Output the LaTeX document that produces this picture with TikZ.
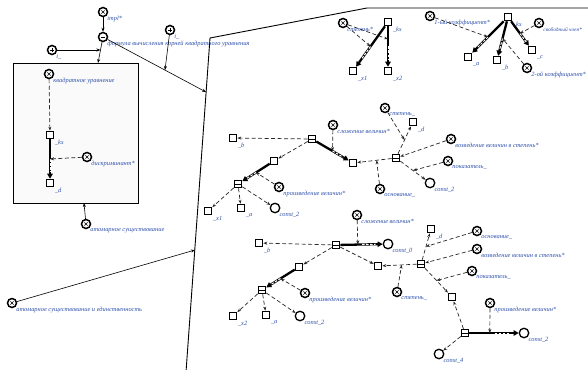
\documentclass[tikz,border=0pt]{standalone}
\usepackage{fontspec}
\setmainfont{Liberation Serif}
\usetikzlibrary{arrows.meta,calc}
\definecolor{labblue}{RGB}{45,80,170}
\tikzset{
 lab/.style={font=\fontsize{6.4}{7.5}\selectfont\itshape, text=labblue, inner sep=0.5pt, anchor=north west},
 smalllab/.style={lab, font=\fontsize{5.4}{6.5}\selectfont\itshape},
 sq/.style={draw, line width=1.1pt, minimum size=7.5pt, inner sep=0pt, fill=white},
 tup/.style={sq, path picture={\draw[line width=0.6pt] (path picture bounding box.west) -- (path picture bounding box.east);}},
 clsbase/.style={circle, draw, line width=1.5pt, minimum size=9pt, inner sep=0pt, fill=white},
 cls/.style={clsbase, path picture={\draw[line width=0.5pt] ([shift={(-1.6pt,-1.6pt)}]path picture bounding box.center) -- ++(3.2pt,3.2pt) ([shift={(-1.6pt,1.6pt)}]path picture bounding box.center) -- ++(3.2pt,-3.2pt);}},
 clsplus/.style={clsbase, path picture={\draw[line width=0.6pt] ([shift={(-2pt,0pt)}]path picture bounding box.center) -- ++(4pt,0pt) ([shift={(0pt,-2pt)}]path picture bounding box.center) -- ++(0pt,4pt);}},
 clsminus/.style={clsbase, path picture={\draw[line width=0.7pt] ([shift={(-2.2pt,0pt)}]path picture bounding box.center) -- ++(4.4pt,0pt);}},
 cnst/.style={circle, draw, line width=1.3pt, minimum size=9.5pt, inner sep=0pt, fill=white},
 conn/.style={line width=0.6pt, -{Stealth[length=4pt,width=3pt]}},
 rel/.style={line width=0.7pt, black!85, dash pattern=on 4pt off 2.5pt, -{Stealth[length=4pt,width=3pt]}},
 frame/.style={line width=0.9pt},
}
\newcommand\carc[2]{%
 \draw[line width=2.3pt, -{Triangle[length=5pt,width=5.5pt]}] (#1) -- (#2);
 \draw[white, line width=1pt, dash pattern=on 2.5pt off 1.5pt] ($(#1)!0.5!(#2)$) -- ($(#1)!0.76!(#2)$);}
\begin{document}
\begin{tikzpicture}[x=1pt,y=-1pt]
\useasboundingbox (0,0) rectangle (588,369);
% big outline
\draw[frame] (186,372) -- (210,38) -- (367,8) -- (590,8);
\coordinate (p1) at (206,92);
\coordinate (p2) at (195,250);
% left box
\node[draw, frame, fill=black!2, minimum width=125pt, minimum height=140pt, inner sep=0pt] (box) at (75.5,133) {};
\coordinate (j1) at (98,63);
\coordinate (j2) at (84,203);

% left nodes
\node[cls, label={[lab]south east:impl*}] (impl) at (103,12) {};
\node[clsminus, label={[lab]south east:формула вычисления корней квадратного уравнения}] (form) at (103,37) {};
\node[clsplus, label={[lab]south east:i\_}] (i1) at (52,50) {};
\node[clsplus, label={[lab]south east:i\_}] (i2) at (170,30) {};
\node[cls, label={[lab]south east:квадратное уравнение}] (kv) at (49,74) {};
\node[sq, label={[lab]south east:\_ks}] (ks0) at (50,135) {};
\node[sq, label={[lab]south east:\_d}] (d0) at (50,183) {};
\node[cls, label={[lab]south east:дискриминант*}] (disc) at (87,157) {};
\node[cls, label={[lab]south east:атомарное существование}] (atom) at (86,224) {};
\node[cls, label={[lab]south east:атомарное существование и единственность}] (atom2) at (12,303) {};

\coordinate (q1) at (100.5,50);
\coordinate (q2) at (165,70);
\draw[conn] (impl) -- (form);
\draw[conn] (form) -- (j1);
\draw[conn] (i1) -- (q1);
\draw[conn] (form) -- (p1);
\draw[conn] (i2) -- (q2);
\draw[conn] (atom) -- (j2);
\draw[conn] (atom2) -- (p2);
\draw[rel] (kv) -- (ks0);
\carc{ks0}{d0}
\coordinate (m0) at ($(ks0)!0.5!(d0)$);
\draw[rel] (disc) -- (m0);

% top group 1
\node[cls, label={[lab]south east:степень*}] (st1) at (343,23) {};
\node[sq, label={[lab]south east:\_ks}] (ks1) at (388,22) {};
\node[sq, label={[lab]south east:\_x1}] (x1a) at (353,71) {};
\node[sq, label={[lab]south east:\_x2}] (x2a) at (388,71) {};
\carc{ks1}{x1a}
\carc{ks1}{x2a}
\coordinate (m1) at ($(ks1)!0.5!(x1a)$);
\coordinate (m2) at ($(ks1)!0.35!(x2a)$);
\draw[rel] (st1) -- (m1);
\draw[rel] (st1) -- (m2);

% top group 2
\node[cls, label={[lab]south east:1-ый коэффициент*}] (k1) at (430,16) {};
\node[sq, label={[lab]south east:\_ks}] (ks2) at (508,17) {};
\node[sq, label={[lab]south east:\_a}] (a2) at (468,57) {};
\node[sq, label={[lab]south east:\_b}] (b2) at (497,60) {};
\node[sq, label={[lab]south east:\_c}] (c2) at (532,50) {};
\node[cls, label={[smalllab]south east:свободный член*}] (fr) at (539,23) {};
\node[cls, label={[lab]south east:2-ой коэффициент*}] (k2) at (527,68) {};
\carc{ks2}{a2}
\carc{ks2}{b2}
\carc{ks2}{c2}
\coordinate (m3) at ($(ks2)!0.5!(a2)$);
\coordinate (m4) at ($(ks2)!0.5!(b2)$);
\coordinate (m5) at ($(ks2)!0.5!(c2)$);
\draw[rel] (k1) -- (m3);
\draw[rel] (k2) -- (m4);
\draw[rel] (fr) -- (m5);

% middle group
\node[tup] (t1) at (312,139) {};
\node[sq, label={[lab]south east:\_b}] (bm) at (233,138) {};
\node[sq] (s1) at (274,161) {};
\node[tup] (t2) at (238,184) {};
\node[sq, label={[lab]south east:\_x1}] (x1m) at (208,211) {};
\node[sq, label={[lab]south east:\_a}] (am) at (241,208) {};
\node[cnst, label={[lab]south east:const\_2}] (c2m) at (275,208) {};
\node[cls, label={[lab]south east:произведение величин*}] (pr1) at (279,187) {};
\node[cls, label={[lab]south east:сложение величин*}] (sl1) at (333,125) {};
\node[sq] (s2) at (353,163) {};
\node[tup] (t3) at (396,158) {};
\node[cls, label={[lab]south east:основание\_}] (os1) at (380,189) {};
\node[cls, label={[lab]south east:степень\_}] (st2) at (385,108) {};
\node[sq, label={[lab]south east:\_d}] (dm) at (413,122) {};
\node[cls, label={[lab]south east:возведение величин в степень*}] (vz1) at (451,139) {};
\node[cls, label={[lab]south east:показатель\_}] (pk1) at (448,161) {};
\node[cnst, label={[lab]south east:const\_2}] (c3m) at (430,183) {};

\draw[rel] (t1) -- (bm);
\draw[rel] (t1) -- (s1);
\carc{t1}{s2}
\coordinate (m6) at ($(t1)!0.5!(s2)$);
\draw[rel] (sl1) -- (m6);
\carc{s1}{t2}
\coordinate (m7) at ($(s1)!0.5!(t2)$);
\draw[rel] (pr1) -- (m7);
\draw[rel] (t2) -- (x1m);
\draw[rel] (t2) -- (am);
\draw[rel] (t2) -- (c2m);
\draw[rel] (t3) -- (s2);
\coordinate (m8) at ($(t3)!0.45!(s2)$);
\draw[rel] (os1) -- (m8);
\draw[rel] (t3) -- (dm);
\coordinate (m9) at ($(t3)!0.5!(dm)$);
\draw[rel] (st2) -- (m9);
\draw[rel] (vz1) -- (t3);
\draw[rel] (t3) -- (c3m);
\coordinate (m10) at ($(t3)!0.5!(c3m)$);
\draw[rel] (pk1) -- (m10);

% bottom group
\node[cls, label={[lab]south east:сложение величин*}] (sl2) at (357,215) {};
\node[tup] (t4) at (336,245) {};
\node[cnst, label={[lab]south east:const\_0}] (c0) at (388,244) {};
\node[sq, label={[lab]south east:\_b}] (bb) at (259,243) {};
\node[sq] (s3) at (299,267) {};
\node[tup] (t5) at (262,290) {};
\node[sq, label={[lab]south east:\_x2}] (x2b) at (233,316) {};
\node[sq, label={[lab]south east:\_a}] (ab) at (266,315) {};
\node[cnst, label={[lab]south east:const\_2}] (c2b) at (300,316) {};
\node[cls, label={[lab]south east:произведение величин*}] (pr2) at (305,293) {};
\node[sq] (s4) at (378,266) {};
\node[tup] (t6) at (421,264) {};
\node[sq, label={[lab]south east:\_d}] (db) at (431,229) {};
\node[cls, label={[lab]south east:основание\_}] (os2) at (477,231) {};
\node[cls, label={[lab]south east:возведение величин в степень*}] (vz2) at (477,249) {};
\node[cls, label={[lab]south east:показатель\_}] (pk2) at (472,271) {};
\node[cls, label={[lab]south east:степень\_}] (st3) at (397,292) {};
\node[sq] (s5) at (452,297) {};
\node[tup] (t7) at (465,333) {};
\node[cnst, label={[lab]south east:const\_2}] (c2c) at (524,333) {};
\node[cls, label={[lab]south east:произведение величин*}] (pr3) at (490,303) {};
\node[cnst, label={[lab]south east:const\_4}] (c4) at (439,354) {};

\carc{t4}{c0}
\coordinate (m11) at ($(t4)!0.42!(c0)$);
\draw[rel] (sl2) -- (m11);
\draw[rel] (t4) -- (bb);
\draw[rel] (t4) -- (s3);
\draw[rel] (t4) -- (s4);
\carc{s3}{t5}
\coordinate (m12) at ($(s3)!0.5!(t5)$);
\draw[rel] (pr2) -- (m12);
\draw[rel] (t5) -- (x2b);
\draw[rel] (t5) -- (ab);
\draw[rel] (t5) -- (c2b);
\draw[rel] (t6) -- (s4);
\coordinate (m13) at ($(t6)!0.45!(s4)$);
\draw[rel] (st3) -- (m13);
\draw[rel] (t6) -- (db);
\coordinate (m14) at ($(t6)!0.5!(db)$);
\draw[rel] (os2) -- (m14);
\draw[rel] (vz2) -- (t6);
\draw[rel] (t6) -- (s5);
\coordinate (m15) at ($(t6)!0.5!(s5)$);
\draw[rel] (pk2) -- (m15);
\draw[rel] (t7) -- (s5);
\carc{t7}{c2c}
\coordinate (m16) at ($(t7)!0.42!(c2c)$);
\draw[rel] (pr3) -- (m16);
\draw[rel] (t7) -- (c4);
\end{tikzpicture}
\end{document}
